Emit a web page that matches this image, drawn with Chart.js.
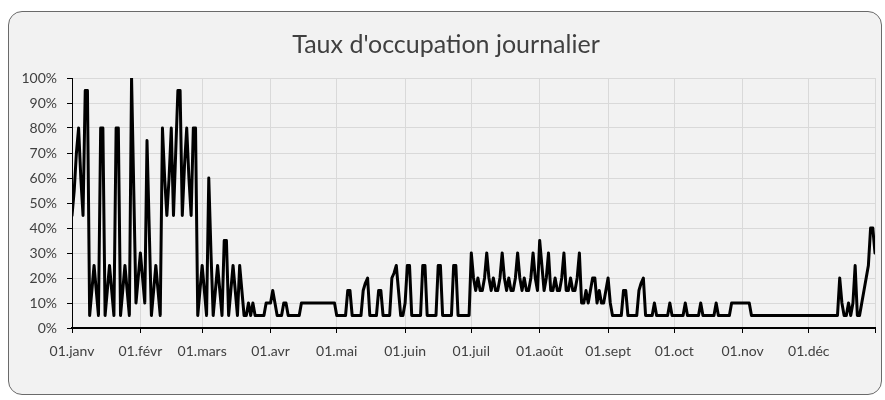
<!DOCTYPE html>
<html>
<head>
<meta charset="utf-8">
<script src="https://cdn.jsdelivr.net/npm/chart.js@4.4.1/dist/chart.umd.min.js"></script>
<style>
  html, body { margin: 0; padding: 0; background: #fff; }
  #wrap { position: relative; width: 885px; height: 400px; }
  #frame {
    position: absolute; left: 8px; top: 11px; width: 872px; height: 382px;
    border: 1px solid #6a6a6a; border-radius: 14px; background: #f2f2f2;
  }
  #chart { position: absolute; left: 0; top: 0; }
</style>
</head>
<body>
<div id="wrap">
  <div id="frame"></div>
  <canvas id="chart" width="885" height="400"></canvas>
</div>
<script>
// daily occupancy (%), one array per month
const JAN = [45,55,70,80,60,45,95,95,5,15,25,15,5,80,80,5,15,25,15,5,80,80,5,15,25,15,5,100,55,10,20];
const FEB = [30,20,10,75,40,5,15,25,15,5,80,60,45,60,80,45,70,95,95,45,65,80,60,45,80,80,5,15];
const MAR = [25,15,5,60,30,5,15,25,15,5,35,35,5,15,25,15,5,25,15,5,5,10,5,10,5,5,5,5,5,10,10];
const APR = [10,15,10,5,5,5,10,10,5,5,5,5,5,5,10,10,10,10,10,10,10,10,10,10,10,10,10,10,10,10];
const MAY = [5,5,5,5,5,15,15,5,5,5,5,5,15,18,20,5,5,5,5,15,15,5,5,5,5,20,22,25,15,5,5];
const JUN = [10,25,25,5,5,5,5,5,25,25,5,5,5,5,5,25,25,5,5,5,5,5,25,25,5,5,5,5,5,5];
const JUL = [30,20,15,20,15,15,20,30,20,15,20,15,15,20,30,20,15,20,15,15,20,30,20,15,20,15,15,20,30,20,15];
const AUG = [35,25,15,20,30,15,15,20,15,15,20,30,15,15,20,15,15,20,30,10,10,15,10,15,20,20,10,15,10,10,15];
const SEP = [20,10,5,5,5,5,5,15,15,5,5,5,5,5,15,18,20,5,5,5,5,10,5,5,5,5,5,5,10,5];
const OCT = [5,5,5,5,5,10,5,5,5,5,5,5,10,5,5,5,5,5,5,10,5,5,5,5,5,5,10,10,10,10,10];
const NOV = [10,10,10,10,5,5,5,5,5,5,5,5,5,5,5,5,5,5,5,5,5,5,5,5,5,5,5,5,5,5];
const DEC = [5,5,5,5,5,5,5,5,5,5,5,5,5,5,20,10,5,5,10,5,10,25,5,5,10,15,20,25,40,40,30];

const MONTH_LABELS = ["01.janv", "01.févr", "01.mars", "01.avr", "01.mai", "01.juin",
  "01.juil", "01.août", "01.sept", "01.oct", "01.nov", "01.déc"];
const MONTH_START = [0, 31, 59, 90, 120, 151, 181, 212, 243, 273, 304, 334];
const LAST_DAY = 364;

const occupancy = [].concat(JAN, FEB, MAR, APR, MAY, JUN, JUL, AUG, SEP, OCT, NOV, DEC);
const points = occupancy.map((v, i) => ({ x: i, y: v }));

const tickFont = { family: "Lato, sans-serif", size: 14 };

new Chart(document.getElementById("chart"), {
  type: "line",
  data: {
    datasets: [{
      data: points,
      borderColor: "#000",
      borderWidth: 3,
      borderJoinStyle: "round",
      borderCapStyle: "round",
      pointRadius: 0,
      tension: 0,
    }],
  },
  options: {
    responsive: false,
    animation: false,
    layout: { padding: { left: 14, right: 7, top: 0, bottom: 32 } },
    plugins: {
      legend: { display: false },
      tooltip: { enabled: false },
      title: {
        display: true,
        text: "Taux d'occupation journalier",
        color: "#404040",
        font: { family: "Lato, sans-serif", size: 25, weight: "normal" },
        padding: { top: 30, bottom: 18 },
      },
    },
    scales: {
      x: {
        type: "linear",
        min: 0,
        max: LAST_DAY,
        afterBuildTicks: (axis) => {
          axis.ticks = MONTH_START.concat([LAST_DAY]).map((v) => ({ value: v }));
        },
        afterFit: (s) => { s.height = 40; },
        grid: { color: "#d9d9d9", tickColor: "#000", tickLength: 5 },
        border: { color: "#000", width: 2 },
        ticks: {
          color: "#404040",
          font: tickFont,
          padding: 10,
          maxRotation: 0,
          autoSkip: false,
          callback: (v) => {
            const i = MONTH_START.indexOf(v);
            return i >= 0 ? MONTH_LABELS[i] : "";
          },
        },
      },
      y: {
        min: 0,
        max: 100,
        afterFit: (s) => { s.width = 58; },
        grid: { color: "#d9d9d9", tickColor: "#000", tickLength: 5 },
        border: { color: "#000", width: 1 },
        ticks: {
          stepSize: 10,
          color: "#404040",
          font: tickFont,
          padding: 10,
          callback: (v) => v + "%",
        },
      },
    },
  },
});
</script>
</body>
</html>
